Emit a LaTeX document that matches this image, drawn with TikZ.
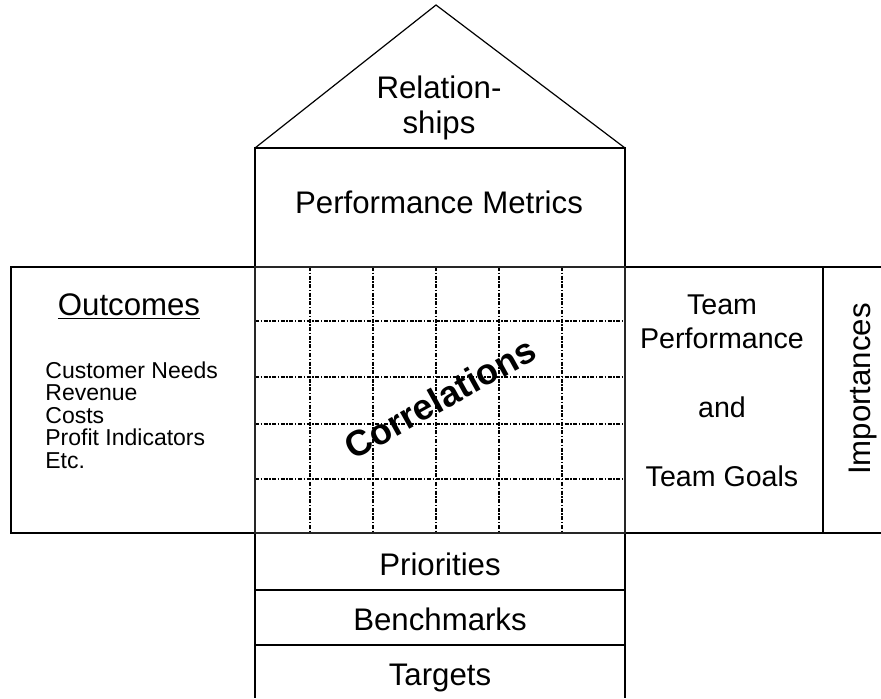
\documentclass[tikz,border=0pt]{standalone}
\usepackage{fontspec}
\setmainfont{Liberation Sans}
\tikzset{edge/.style = {line width=0.6pt}}
\tikzset{frame/.style = {line width=1.1pt, draw=black!85}}
\tikzset{gridline/.style = {line width=0.7pt, dash pattern=on 2pt off 0.8pt on 0.7pt off 0.8pt}}
\tikzset{lbl/.style = {inner sep=0, font=\fontsize{15.6}{17.25}\selectfont}}
\tikzset{small/.style = {inner sep=0, font=\fontsize{11.5}{11.25}\selectfont, align=left}}
\tikzset{team/.style = {inner sep=0, font=\fontsize{14.3}{17.25}\selectfont, align=center}}

\begin{document}
\begin{tikzpicture}[x=0.5pt, y=-0.5pt]
        \useasboundingbox (0, 0) rectangle (881, 698);

        % roof and metrics
        \draw [edge] (255, 148) -- (436, 5) -- (625, 148);
        \draw [edge] (255, 148) rectangle (625, 267);

        % side rooms
        \draw [edge] (11, 267) rectangle (255, 533);
        \draw [edge] (625, 267) rectangle (823, 533);
        \draw [edge] (823, 267) -- (881, 267);
        \draw [edge] (823, 533) -- (881, 533);

        % basement
        \draw [edge] (255, 533) rectangle (625, 590);
        \draw [edge] (255, 590) rectangle (625, 645);
        \draw [edge] (255, 645) -- (255, 698);
        \draw [edge] (625, 645) -- (625, 698);

        % correlation grid
        \foreach \x in {310, 373, 436, 499, 562}
          \draw [gridline] (\x, 267) -- (\x, 533);
        \foreach \y in {321, 377, 424, 479}
          \draw [gridline] (255, \y) -- (625, \y);
        \draw [frame] (255, 267) rectangle (625, 533);

        \node [lbl, align=center] (relations) at (439, 108) {Relation-\\ships};
        \node [lbl, anchor=base] (metrics) at (439, 213) {Performance Metrics};

        \node [lbl, anchor=base] (outcomes) at (129, 315) {\underline{Outcomes}};
        \node [small, anchor=west] (needs) at (45, 415)
          {Customer Needs\\Revenue\\Costs\\Profit Indicators\\Etc.};

        \node [team] (goals) at (722, 391)
          {Team\\Performance\\[17.25pt]and\\[17.25pt]Team Goals};
        \node [lbl, rotate=90] (importances) at (863, 389) {Importances};

        \node [inner sep=0, rotate=29, font=\fontsize{18}{20}\selectfont\bfseries]
          (correlations) at (440, 398) {Correlations};

        \node [lbl, anchor=base] (priorities) at (440, 575) {Priorities};
        \node [lbl, anchor=base] (benchmarks) at (440, 630) {Benchmarks};
        \node [lbl, anchor=base] (targets) at (440, 685) {Targets};
      \end{tikzpicture}
\end{document}
